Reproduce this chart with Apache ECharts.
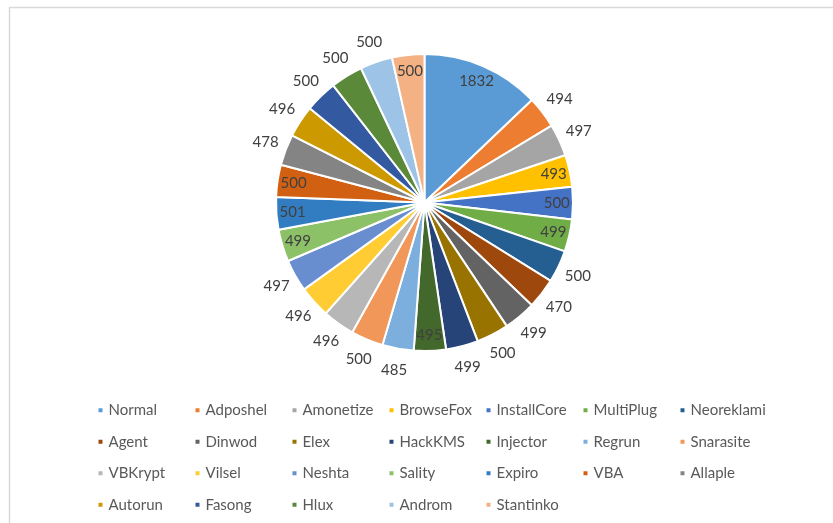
<!DOCTYPE html>
<html>
<head>
<meta charset="utf-8">
<script src="https://cdn.jsdelivr.net/npm/echarts@6/dist/echarts.min.js"></script>
<style>
html,body{margin:0;padding:0;background:#fff;}
#chart{width:833px;height:523px;}
</style>
</head>
<body>
<div id="chart"></div>
<script>
// ---- data ----
const categories = ['Normal','Adposhel','Amonetize','BrowseFox','InstallCore','MultiPlug','Neoreklami',
  'Agent','Dinwod','Elex','HackKMS','Injector','Regrun','Snarasite',
  'VBKrypt','Vilsel','Neshta','Sality','Expiro','VBA','Allaple',
  'Autorun','Fasong','Hlux','Androm','Stantinko'];
const values = [1832,494,497,493,500,499,500,
  470,499,500,499,495,485,500,
  496,496,497,499,501,500,478,
  496,500,500,500,500];
const colors = ['#5B9BD5','#ED7D31','#A5A5A5','#FFC000','#4472C4','#70AD47','#255E91',
  '#9E480E','#636363','#997300','#264478','#43682B','#7CAFDD','#F1975A',
  '#B7B7B7','#FFCD33','#698ED0','#8CC168','#327DC2','#D26012','#848484',
  '#CC9A00','#335AA1','#5A8A39','#9DC3E6','#F4B183'];

// ---- layout / style ----
const insideLabels = ['Normal','BrowseFox','InstallCore','MultiPlug','Injector','Sality','Expiro','VBA','Stantinko'];
const FONT = 'Lato, "Open Sans", sans-serif';
const CX = 424.5, CY = 202.5, R = 148.5;

const chart = echarts.init(document.getElementById('chart'), null, {renderer: 'canvas'});

function labelSeries(radius, showInside) {
  return {
    type: 'pie',
    silent: true,
    center: [CX, CY],
    radius: radius,
    startAngle: 90,
    clockwise: true,
    avoidLabelOverlap: false,
    itemStyle: {color: 'rgba(0,0,0,0)', borderWidth: 0},
    emphasis: {disabled: true},
    labelLine: {show: false},
    label: {
      show: true,
      position: 'inside',
      formatter: '{c}',
      color: '#404040',
      fontFamily: FONT,
      fontSize: 15,
      rotate: 0
    },
    data: categories.map((n, i) => ({
      name: n,
      value: values[i],
      label: {show: showInside ? insideLabels.includes(n) : !insideLabels.includes(n)}
    }))
  };
}

const option = {
  animation: false,
  backgroundColor: '#fff',
  color: colors,
  graphic: [{
    type: 'rect',
    shape: {x: 9.5, y: 7.5, width: 840, height: 540},
    style: {fill: 'none', stroke: '#D9D9D9', lineWidth: 1.5},
    silent: true
  }],
  legend: {
    data: categories,
    orient: 'horizontal',
    left: 96.5,
    top: 397,
    width: 700,
    padding: 0,
    icon: 'rect',
    itemWidth: 6,
    itemHeight: 6,
    itemGap: 5,
    textStyle: {
      color: '#595959',
      fontFamily: FONT,
      fontSize: 15,
      width: 80,
      lineHeight: 26.5
    }
  },
  series: [
    {
      type: 'pie',
      center: [CX, CY],
      radius: [0, R],
      startAngle: 90,
      clockwise: true,
      avoidLabelOverlap: false,
      itemStyle: {borderColor: '#fff', borderWidth: 2},
      label: {show: false},
      labelLine: {show: false},
      emphasis: {scale: false},
      data: categories.map((n, i) => ({name: n, value: values[i], itemStyle: {color: colors[i]}}))
    },
    labelSeries([110, R], true),
    labelSeries([157, 177], false)
  ]
};
chart.setOption(option);
</script>
</body>
</html>
